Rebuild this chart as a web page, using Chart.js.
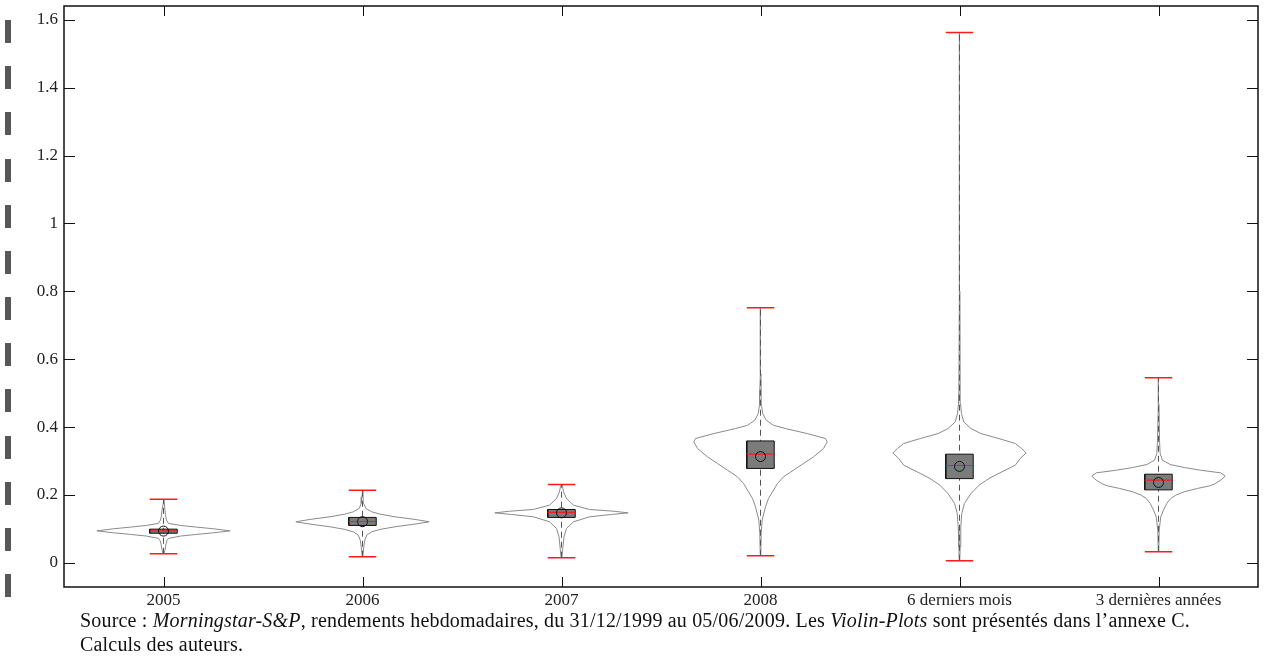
<!DOCTYPE html>
<html>
<head>
<meta charset="utf-8">
<script src="https://cdn.jsdelivr.net/npm/chart.js@4.4.1/dist/chart.umd.min.js"></script>
<style>
  html, body { margin: 0; padding: 0; background: #fff; }
  #wrap { position: relative; width: 1266px; height: 661px; overflow: hidden; }
  #c { position: absolute; left: 0; top: 0; }
  #dash { position: absolute; left: 5px; top: 20px; width: 6px; height: 577px;
          background: repeating-linear-gradient(to bottom, #575757 0px, #575757 23px, rgba(0,0,0,0) 23px, rgba(0,0,0,0) 46.17px); }
  #caption { position: absolute; left: 80px; top: 608px; font-family: "Liberation Serif", serif;
             font-size: 20px; line-height: 24px; color: #111; white-space: nowrap; }
  #caption span { display: inline-block; }
</style>
</head>
<body>
<div id="wrap">
  <canvas id="c" width="1266" height="661"></canvas>
  <div id="dash"></div>
  <div id="caption">
    <span id="cap1">Source : <i>Morningstar-S&amp;P</i>, rendements hebdomadaires, du 31/12/1999 au 05/06/2009. Les <i>Violin-Plots</i> sont présentés dans l’annexe C.</span><br>
    <span id="cap2">Calculs des auteurs.</span>
  </div>
</div>
<script>
// ---- data ----
const categories = ['2005', '2006', '2007', '2008', '6 derniers mois', '3 dernières années'];
const yTickValues = [0, 0.2, 0.4, 0.6, 0.8, 1, 1.2, 1.4, 1.6];
const yTickLabels = ['0', '0.2', '0.4', '0.6', '0.8', '1', '1.2', '1.4', '1.6'];

const whiskerLow  = [0.0265, 0.0177, 0.0148, 0.0207, 0.006, 0.0324];
const whiskerHigh = [0.1875, 0.214, 0.2307, 0.7516, 1.5627, 0.5456];
const q1          = [0.087, 0.110, 0.1336, 0.278, 0.248, 0.2148];
const q3          = [0.099, 0.1336, 0.157, 0.359, 0.320, 0.261];
const medians     = [0.094, 0.1216, 0.1486, 0.320, 0.2866, 0.2434];
const means       = [0.0933, 0.121, 0.147, 0.313, 0.284, 0.2366];

// violin profiles: value levels and relative density (1 = widest)
const levels2005  = [0.0265,0.0374,0.055,0.065,0.0718,0.0786,0.0835,0.0883,0.094,0.1001,0.105,0.110,0.116,0.1257,0.14,0.155,0.1875];
const density2005 = [0.007,0.022,0.037,0.052,0.075,0.255,0.495,0.75,1,0.75,0.495,0.255,0.075,0.045,0.03,0.022,0.007];
const levels2006  = [0.0177,0.0227,0.047,0.0668,0.0815,0.0912,0.0983,0.106,0.1139,0.1207,0.1277,0.1354,0.1433,0.1501,0.1601,0.1748,0.1942,0.214];
const density2006 = [0.007,0.007,0.019,0.034,0.064,0.139,0.264,0.488,0.787,1,0.787,0.488,0.264,0.139,0.049,0.019,0.010,0.007];
const levels2007  = [0.0148,0.0177,0.047,0.0766,0.101,0.1207,0.1354,0.1423,0.147,0.152,0.157,0.1698,0.1894,0.209,0.2257,0.2307];
const density2007 = [0.007,0.007,0.022,0.037,0.075,0.18,0.42,0.75,1,0.775,0.42,0.18,0.075,0.03,0.015,0.007];
const levels2008  = [0.0207,0.0277,0.0865,0.1257,0.1648,0.1895,0.214,0.2337,0.2531,0.2728,0.2925,0.312,0.3367,0.3561,0.3661,0.3808,0.3955,0.4052,0.42,0.4397,0.4641,0.5082,0.5574,0.7516];
const density2008 = [0.0045,0.0045,0.0105,0.025,0.075,0.12,0.195,0.255,0.345,0.495,0.645,0.795,0.945,1,0.975,0.70,0.375,0.195,0.085,0.034,0.015,0.0105,0.0075,0.0045];
const levels6m    = [0.006,0.047,0.106,0.1454,0.1748,0.2042,0.2287,0.2484,0.2678,0.2875,0.3072,0.3237,0.3367,0.3514,0.366,0.3808,0.3955,0.415,0.4397,0.469,0.4985,0.8,1.2,1.5627];
const density6m   = [0.0045,0.010,0.019,0.034,0.074,0.173,0.295,0.443,0.635,0.837,0.911,1,0.931,0.837,0.591,0.32,0.173,0.064,0.030,0.015,0.010,0.007,0.007,0.0045];
const levels3y    = [0.0324,0.0374,0.0962,0.1354,0.1551,0.1748,0.1895,0.1992,0.209,0.219,0.2266,0.2316,0.2434,0.2551,0.2649,0.2728,0.2807,0.2896,0.3022,0.322,0.361,0.469,0.5456];
const density3y   = [0.0045,0.0045,0.0105,0.034,0.075,0.124,0.184,0.259,0.385,0.585,0.765,0.835,0.934,1,0.934,0.63,0.385,0.175,0.06,0.025,0.015,0.0075,0.0045];

const violinLevels  = [levels2005, levels2006, levels2007, levels2008, levels6m, levels3y];
const violinDensity = [density2005, density2006, density2007, density2008, density6m, density3y];

// ---- style constants ----
const VIOLIN_HALF = 0.335;  // max half-width in category units
const BOX_HALF = 0.069;
const CAP_HALF = 0.069;

// ---- build datasets ----
const pos = categories.map((_, i) => i + 1);

const violinSets = pos.map((c, i) => {
  const L = violinLevels[i], D = violinDensity[i];
  const right = L.map((v, k) => ({ x: c + D[k] * VIOLIN_HALF, y: v }));
  const left = L.map((v, k) => ({ x: c - D[k] * VIOLIN_HALF, y: v })).reverse();
  const pts = right.concat(left, [right[0]]);
  return { data: pts, showLine: true, borderColor: '#8a8a8a', borderWidth: 1, pointRadius: 0, fill: false, tension: 0 };
});

const whiskerPts = [];
pos.forEach((c, i) => { whiskerPts.push({ x: c, y: whiskerLow[i] }, { x: c, y: whiskerHigh[i] }, { x: c, y: null }); });
const whiskerSet = { data: whiskerPts, showLine: true, borderColor: '#555', borderWidth: 1, borderDash: [6, 4], pointRadius: 0, spanGaps: false };

const capPts = [];
pos.forEach((c, i) => {
  capPts.push({ x: c - CAP_HALF, y: whiskerHigh[i] }, { x: c + CAP_HALF, y: whiskerHigh[i] }, { x: c, y: null });
  capPts.push({ x: c - CAP_HALF, y: whiskerLow[i] }, { x: c + CAP_HALF, y: whiskerLow[i] }, { x: c, y: null });
});
const capSet = { data: capPts, showLine: true, borderColor: '#ff1a1a', borderWidth: 1.5, pointRadius: 0, spanGaps: false };

const boxSets = pos.map((c, i) => ({
  data: [
    { x: c - BOX_HALF, y: q1[i] }, { x: c + BOX_HALF, y: q1[i] },
    { x: c + BOX_HALF, y: q3[i] }, { x: c - BOX_HALF, y: q3[i] },
    { x: c - BOX_HALF, y: q1[i] }
  ],
  showLine: true, borderColor: '#111', borderWidth: 1, backgroundColor: '#7b7b7b', fill: 'shape', pointRadius: 0, tension: 0
}));

const medPts = [];
pos.forEach((c, i) => { medPts.push({ x: c - BOX_HALF, y: medians[i] }, { x: c + BOX_HALF, y: medians[i] }, { x: c, y: null }); });
const medSet = { data: medPts, showLine: true, borderColor: '#ff1a1a', borderWidth: 1.2, pointRadius: 0, spanGaps: false };

const meanSet = {
  data: pos.map((c, i) => ({ x: c, y: means[i] })),
  showLine: false, pointStyle: 'circle', pointRadius: 5, borderColor: '#111', borderWidth: 1,
  backgroundColor: 'rgba(0,0,0,0)', pointBackgroundColor: 'rgba(0,0,0,0)'
};

// first dataset drawn on top
const datasets = [meanSet, medSet].concat(boxSets, [capSet, whiskerSet], violinSets);

const frameAndTicks = {
  id: 'frameAndTicks',
  afterDraw(chart) {
    const { ctx, chartArea: a, scales } = chart;
    ctx.save();
    ctx.strokeStyle = '#111';
    ctx.lineWidth = 1;
    ctx.beginPath();
    scales.y.ticks.forEach(t => {
      const py = Math.round(scales.y.getPixelForValue(t.value)) + 0.5;
      ctx.moveTo(a.left, py); ctx.lineTo(a.left + 11, py);
      ctx.moveTo(a.right, py); ctx.lineTo(a.right - 11, py);
    });
    scales.x.ticks.forEach(t => {
      const px = Math.round(scales.x.getPixelForValue(t.value)) + 0.5;
      ctx.moveTo(px, a.bottom); ctx.lineTo(px, a.bottom - 10);
      ctx.moveTo(px, a.top); ctx.lineTo(px, a.top + 10);
    });
    ctx.stroke();
    ctx.lineWidth = 1.5;
    ctx.strokeRect(a.left, a.top, a.right - a.left, a.bottom - a.top);
    ctx.restore();
  }
};

new Chart(document.getElementById('c'), {
  type: 'scatter',
  data: { datasets },
  options: {
    responsive: false,
    animation: false,
    devicePixelRatio: 1,
    events: [],
    layout: { padding: { left: 0, right: 8, top: 5, bottom: 0 } },
    plugins: { legend: { display: false }, tooltip: { enabled: false } },
    scales: {
      x: {
        type: 'linear', min: 0.5, max: 6.5,
        grid: { display: false, drawTicks: false },
        border: { display: false },
        afterBuildTicks: s => { s.ticks = pos.map(v => ({ value: v })); },
        afterFit: s => { s.height = 74; s.paddingLeft = 0; s.paddingRight = 0; },
        ticks: {
          padding: 3, maxRotation: 0, autoSkip: false, color: '#222',
          font: { family: 'Liberation Serif', size: 17 },
          callback: (v) => categories[Math.round(v) - 1] || ''
        }
      },
      y: {
        type: 'linear', min: -0.0715, max: 1.641,
        grid: { display: false, drawTicks: false },
        border: { display: false },
        afterBuildTicks: s => { s.ticks = yTickValues.map(v => ({ value: v })); },
        afterFit: s => { s.width = 64; s.paddingTop = 0; s.paddingBottom = 0; },
        ticks: {
          padding: 6, color: '#222',
          font: { family: 'Liberation Serif', size: 17 },
          callback: (v) => { const k = yTickValues.indexOf(v); return k >= 0 ? yTickLabels[k] : ''; }
        }
      }
    }
  },
  plugins: [frameAndTicks]
});

// fit caption line to reference width
(function () {
  const c1 = document.getElementById('cap1'), c2 = document.getElementById('cap2');
  const w = c1.getBoundingClientRect().width;
  const n = c1.textContent.length;
  const ls = (1110 - w) / n;
  c1.style.letterSpacing = ls + 'px';
  c2.style.letterSpacing = ls + 'px';
})();
</script>
</body>
</html>
